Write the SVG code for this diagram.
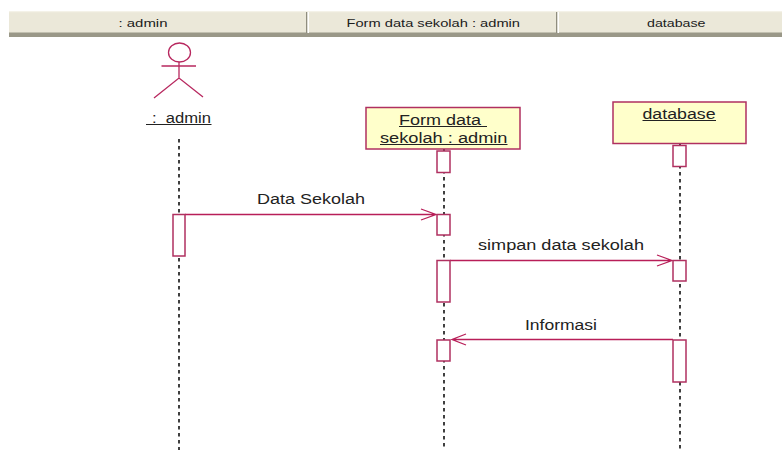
<svg xmlns="http://www.w3.org/2000/svg" width="782" height="450" viewBox="0 0 782 450">
<style>
.hd{font-family:"Liberation Sans",Arial,sans-serif;font-size:11.5px;fill:#1c1c1c}
.lb{font-family:"Liberation Sans",Arial,sans-serif;font-size:15.5px;fill:#222}
.u{stroke:#222;stroke-width:1;fill:none}
.box{fill:#ffffcb;stroke:#b03060;stroke-width:1.5}
.act{fill:#fff;stroke:#b03060;stroke-width:1.5}
.life{stroke:#111;stroke-width:1.6;stroke-dasharray:3.5 3.5;fill:none}
.msg{stroke:#b81e58;stroke-width:1.3;fill:none}
.act-fig{stroke:#b8285f;stroke-width:1.3;fill:none}
</style>
<rect width="782" height="450" fill="#fff"/>
<g id="header">
<rect x="9" y="12" width="773" height="21" fill="#ebe8d9"/>
<rect x="9" y="11" width="773" height="1.2" fill="#f4f2e8"/>
<rect x="9" y="32.5" width="773" height="4.5" fill="#9a9888"/>
<rect x="306" y="12" width="1.5" height="21" fill="#8f8d7e"/>
<rect x="307.5" y="12" width="1.5" height="21" fill="#fff"/>
<rect x="556" y="12" width="1.5" height="21" fill="#8f8d7e"/>
<rect x="557.5" y="12" width="1.5" height="21" fill="#fff"/>
<text class="hd" x="118.5" y="27" textLength="49" lengthAdjust="spacingAndGlyphs">: admin</text>
<text class="hd" x="346.5" y="27" textLength="173.500" lengthAdjust="spacingAndGlyphs">Form data sekolah : admin</text>
<text class="hd" x="647" y="27" textLength="58.500" lengthAdjust="spacingAndGlyphs">database</text>
</g>
<g id="connectors">
<line class="life" x1="179" y1="139" x2="179" y2="450"/>
<line class="life" x1="444" y1="149" x2="444" y2="450"/>
<line class="life" x1="680" y1="144" x2="680" y2="450"/>
<path class="msg" d="M185 214.500H436M421 209L436 214.500L421 220"/>
<path class="msg" d="M450 260.500H672M657 255L672 260.500L657 266"/>
<path class="msg" d="M673 339.500H452M466 334L452 339.500L466 345"/>
<text class="lb" x="257" y="204" textLength="108" lengthAdjust="spacingAndGlyphs">Data Sekolah</text>
<text class="lb" x="478" y="250" textLength="166" lengthAdjust="spacingAndGlyphs">simpan data sekolah</text>
<text class="lb" x="525" y="329.500" textLength="72" lengthAdjust="spacingAndGlyphs">Informasi</text>
</g>
<g id="actor-admin">
<ellipse class="act-fig" cx="179.500" cy="52.500" rx="11" ry="9.500"/>
<path class="act-fig" d="M161.500 66H196M179 62V78M154 98L179 78L203 97"/>
<text class="lb" x="152" y="123" textLength="59" lengthAdjust="spacingAndGlyphs" xml:space="preserve">:  admin</text>
<line class="u" x1="146" y1="124.500" x2="211.500" y2="124.500"/>
<rect class="act" x="173" y="214.500" width="12" height="41.500"/>
</g>
<g id="form-data-sekolah">
<rect class="box" x="366" y="107.500" width="154" height="41.500"/>
<text class="lb" x="399" y="125" textLength="82" lengthAdjust="spacingAndGlyphs">Form data</text>
<line class="u" x1="399" y1="126.500" x2="487" y2="126.500"/>
<text class="lb" x="380" y="143" textLength="127.500" lengthAdjust="spacingAndGlyphs">sekolah : admin</text>
<line class="u" x1="380" y1="144.500" x2="507.500" y2="144.500"/>
<rect class="act" x="437" y="151" width="13" height="21.500"/>
<rect class="act" x="437" y="214.500" width="13" height="20.500"/>
<rect class="act" x="437" y="260.500" width="13" height="41.500"/>
<rect class="act" x="437" y="340" width="13" height="21"/>
</g>
<g id="database">
<rect class="box" x="613" y="102" width="133" height="41.500"/>
<text class="lb" x="642.500" y="119" textLength="73" lengthAdjust="spacingAndGlyphs">database</text>
<line class="u" x1="642.500" y1="120.500" x2="716" y2="120.500"/>
<rect class="act" x="673" y="145.500" width="13" height="21"/>
<rect class="act" x="673" y="260.500" width="13" height="20.500"/>
<rect class="act" x="673" y="340" width="13" height="42"/>
</g>
</svg>
